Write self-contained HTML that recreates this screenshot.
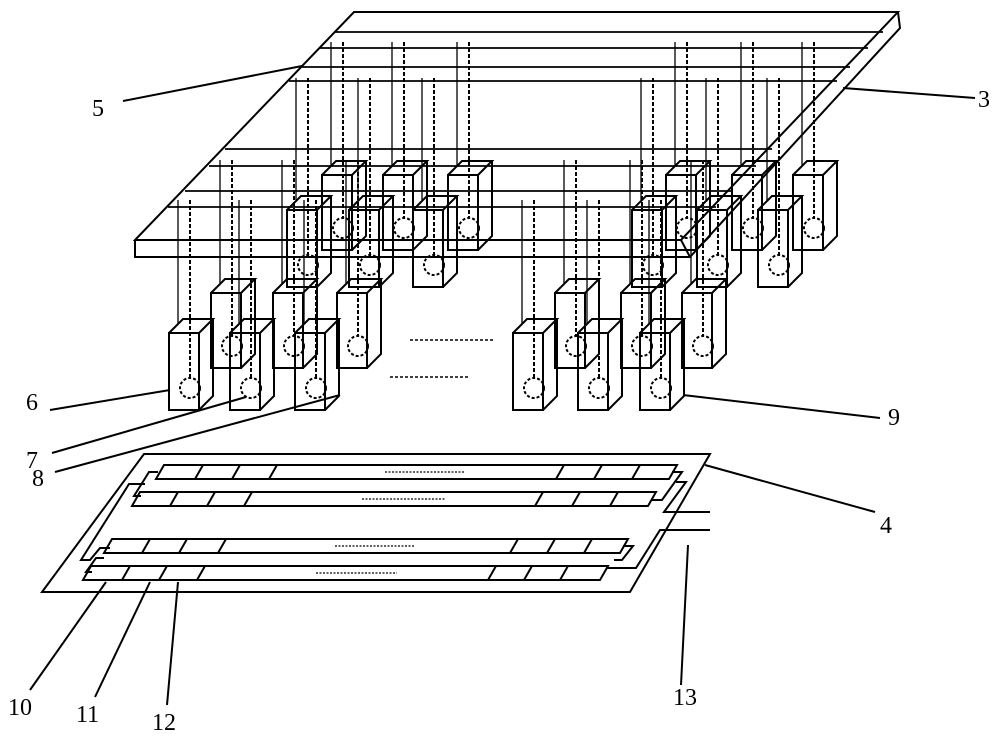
<!DOCTYPE html>
<html><head><meta charset="utf-8"><style>
html,body{margin:0;padding:0;background:#fff}
svg{display:block}
text{font-family:"Liberation Serif",serif;font-size:24px;fill:#000}
</style></head><body>
<svg id="s" width="1000" height="747" viewBox="0 0 1000 747" xmlns="http://www.w3.org/2000/svg" fill="none" stroke="#000" stroke-width="2">
<!-- top plate -->
<polygon points="354,12 898,12 681,240 135,240"/>
<polyline points="135,240 135,257 690,257 900,28 898,12"/>
<line x1="681" y1="240" x2="690" y2="257"/>
<g stroke-width="1.8">
<line x1="335" y1="32" x2="883" y2="32"/>
<line x1="320" y1="48" x2="868" y2="48"/>
<line x1="302" y1="67" x2="850" y2="67"/>
<line x1="289" y1="81" x2="837" y2="81"/>
<line x1="225" y1="149" x2="772" y2="149"/>
<line x1="209" y1="166" x2="756" y2="166"/>
<line x1="185" y1="191" x2="732" y2="191"/>
<line x1="168" y1="207" x2="716" y2="207"/>
</g>
<g id="boxes"></g>
<!-- dotted center -->
<line x1="410" y1="340" x2="495" y2="340" stroke-dasharray="3,2" stroke-width="1.5"/>
<line x1="390" y1="377" x2="470" y2="377" stroke-dasharray="3,2" stroke-width="1.5"/>
<!-- bottom plate -->
<polygon points="144,454 710,454 630,592 42,592"/>
<g id="strips"></g>
<!-- serpentine connectors -->
<polyline points="158,472 149,472 134,496 141,496"/>
<polyline points="145,484 129,484 81,560 90,560 100,548 110,548"/>
<polyline points="104,558 96,558 86,572 92,572"/>
<polyline points="672,472 682,472 662,500 652,500"/>
<polyline points="676,482 686,482 664,512 710,512"/>
<polyline points="710,530 660,530 636,568 606,568"/>
<polyline points="623,546 633,546 622,560 614,560"/>
<!-- leaders -->
<g stroke-width="2">
<line x1="123" y1="101" x2="302" y2="66"/>
<line x1="843" y1="88" x2="975" y2="98"/>
<line x1="50" y1="410" x2="170" y2="390"/>
<line x1="52" y1="453" x2="246" y2="397"/>
<line x1="55" y1="472" x2="340" y2="395"/>
<line x1="683" y1="395" x2="880" y2="418"/>
<line x1="705" y1="465" x2="875" y2="512"/>
<line x1="688" y1="545" x2="681" y2="685"/>
<line x1="30" y1="690" x2="106" y2="582"/>
<line x1="95" y1="697" x2="150" y2="582"/>
<line x1="167" y1="705" x2="178" y2="582"/>
</g>
<text x="92" y="116" stroke="none">5</text>
<text x="978" y="107" stroke="none">3</text>
<text x="26" y="410" stroke="none">6</text>
<text x="26" y="468" stroke="none">7</text>
<text x="32" y="486" stroke="none">8</text>
<text x="888" y="425" stroke="none">9</text>
<text x="880" y="533" stroke="none">4</text>
<text x="673" y="705" stroke="none">13</text>
<text x="8" y="715" stroke="none">10</text>
<text x="76" y="722" stroke="none">11</text>
<text x="152" y="730" stroke="none">12</text>
</svg>
<script>
var NS="http://www.w3.org/2000/svg";
function el(p,t,a){var e=document.createElementNS(NS,t);for(var k in a)e.setAttribute(k,a[k]);p.appendChild(e);return e;}
var g=document.getElementById("boxes");
function box(x,y,h,top){
 var w=30,d=14;
 var cx=x+21,cy=y+h-22;
 el(g,"line",{x1:cx,y1:top,x2:cx,y2:cy-10,"stroke-dasharray":"4,2","stroke-width":2});
 el(g,"line",{x1:cx-12,y1:top,x2:cx-12,y2:y-d+4,"stroke-width":1.3});
 el(g,"rect",{x:x,y:y,width:w,height:h});
 el(g,"polyline",{points:[x,y,x+d,y-d,x+w+d,y-d,x+w,y].join(" ")});
 el(g,"polyline",{points:[x+w+d,y-d,x+w+d,y+h-d,x+w,y+h].join(" ")});
 el(g,"circle",{cx:cx,cy:cy,r:10,"stroke-dasharray":"3,2"});
}
[322,383,448,666,732,793].forEach(function(x){box(x,175,75,42);});
[287,349,413,632,697,758].forEach(function(x){box(x,210,77,78);});
[211,273,337,555,621,682].forEach(function(x){box(x,293,75,160);});
[169,230,295,513,578,640].forEach(function(x){box(x,333,77,200);});
var s=document.getElementById("strips");
var strips=[
 {y:465,l:164,r:677,dl:[203,240,277],dr:[564,602,640],t:[385,465]},
 {y:492,l:140,r:656,dl:[178,215,252],dr:[543,580,618],t:[362,445]},
 {y:539,l:112,r:628,dl:[150,187,226],dr:[518,555,592],t:[335,415]},
 {y:566,l:91,r:608,dl:[130,167,205],dr:[496,532,568],t:[316,397]}
];
strips.forEach(function(o){
 var y=o.y,b=y+14,sh=8;
 el(s,"polygon",{points:[o.l,y,o.r,y,o.r-sh,b,o.l-sh,b].join(" "),fill:"#fff"});
 o.dl.concat(o.dr).forEach(function(x){el(s,"line",{x1:x,y1:y,x2:x-sh,y2:b});});
 el(s,"line",{x1:o.t[0],y1:y+7,x2:o.t[1],y2:y+7,"stroke-dasharray":"2,1.5","stroke-width":1.3});
});
</script>
</body></html>
